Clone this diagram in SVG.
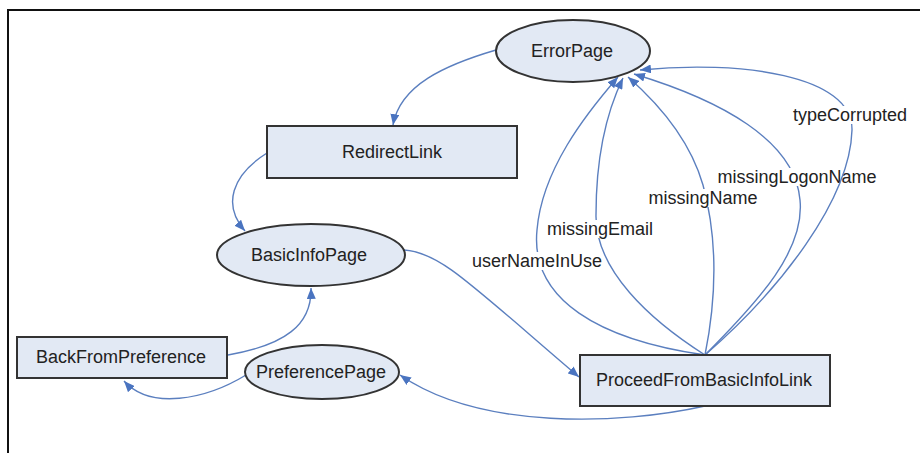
<svg xmlns="http://www.w3.org/2000/svg" width="920" height="453" viewBox="0 0 920 453">
<style>
.node{fill:#e2e9f4;stroke:#333;stroke-width:2}
.t{font-family:"Liberation Sans",Arial,sans-serif;font-size:18px;fill:#222;text-anchor:middle}
.e{fill:none;stroke:#5b7fbf;stroke-width:1.4;marker-end:url(#ah)}
.lb{fill:#fff}
</style>
<defs>
<marker id="ah" markerUnits="userSpaceOnUse" markerWidth="11" markerHeight="9" refX="11" refY="4.5" orient="auto">
<path d="M0,0 L11,4.5 L0,9 z" fill="#4a74c0"/>
</marker>
</defs>
<rect width="920" height="453" fill="#fff"/>
<path d="M8,453 V10 H920" fill="none" stroke="#111" stroke-width="2"/>
<g id="connectors">
<path class="e" d="M496,50 C445,65 400,85 393,125"/>
<path class="e" d="M267,153 C232,175 222,205 245,231"/>
<path class="e" d="M404,250 C440,252 470,284 579,377"/>
<path class="e" d="M228,355 C285,345 312,325 311,288"/>
<path class="e" d="M246,375 C205,400 150,410 124,381"/>
<path class="e" d="M705,406 C620,425 480,430 400,375"/>
<g>
<path class="e" d="M705,355 C600,340 530,300 537,230 C542,170 585,115 618,77"/>
<rect class="lb" x="472" y="252" width="131" height="18"/>
<text class="t" x="537" y="267">userNameInUse</text>
</g>
<g>
<path class="e" d="M705,355 C650,320 595,270 596,215 C596,160 605,115 623,78"/>
<rect class="lb" x="546" y="220" width="107" height="18"/>
<text class="t" x="600" y="235">missingEmail</text>
</g>
<g>
<path class="e" d="M705,355 C716,300 718,240 703,185 C690,140 660,105 628,77"/>
<rect class="lb" x="648" y="189" width="110" height="18"/>
<text class="t" x="703" y="204">missingName</text>
</g>
<g>
<path class="e" d="M705,355 C760,300 805,250 800,200 C795,140 720,100 634,74"/>
<rect class="lb" x="717" y="168" width="161" height="18"/>
<text class="t" x="797" y="183">missingLogonName</text>
</g>
<g>
<path class="e" d="M705,355 C780,290 850,200 852,130 C853,75 740,60 640,70"/>
<rect class="lb" x="792" y="106" width="116" height="18"/>
<text class="t" x="850" y="121">typeCorrupted</text>
</g>
</g>
<g id="ErrorPage">
<ellipse class="node" cx="573" cy="51" rx="77" ry="31"/>
<text class="t" x="572" y="57">ErrorPage</text>
</g>
<g id="RedirectLink">
<rect class="node" x="267" y="126" width="250" height="52"/>
<text class="t" x="392" y="158">RedirectLink</text>
</g>
<g id="BasicInfoPage">
<ellipse class="node" cx="311" cy="255" rx="94" ry="31"/>
<text class="t" x="309" y="261">BasicInfoPage</text>
</g>
<g id="BackFromPreference">
<rect class="node" x="17" y="337" width="210" height="41"/>
<text class="t" x="121" y="363">BackFromPreference</text>
</g>
<g id="PreferencePage">
<ellipse class="node" cx="322" cy="372" rx="77" ry="27"/>
<text class="t" x="321" y="378">PreferencePage</text>
</g>
<g id="ProceedFromBasicInfoLink">
<rect class="node" x="580" y="355" width="250" height="51"/>
<text class="t" x="704" y="386">ProceedFromBasicInfoLink</text>
</g>
</svg>
